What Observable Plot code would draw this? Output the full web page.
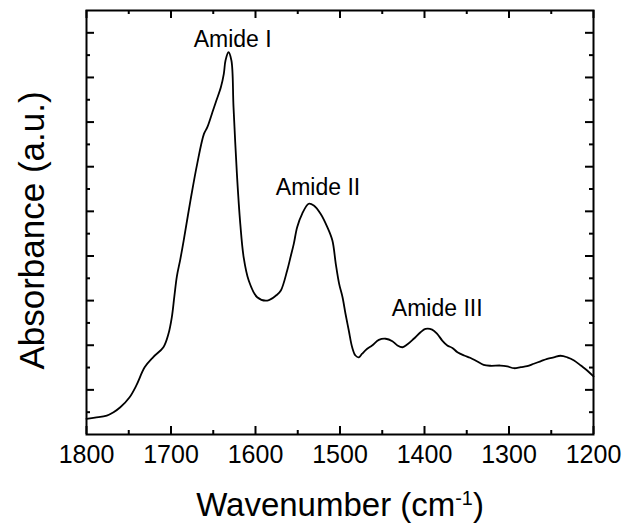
<!DOCTYPE html>
<html>
<head>
<meta charset="utf-8">
<script src="https://cdn.jsdelivr.net/npm/d3@7"></script>
<script src="https://cdn.jsdelivr.net/npm/@observablehq/plot@0.6"></script>
<style>
  html, body { margin: 0; padding: 0; background: white; }
  #chart { width: 628px; height: 531px; }
</style>
</head>
<body>
<div id="chart"></div>
<script>
// Spectrum (wavenumber in cm-1, absorbance in arbitrary units)
const wavenumber = [1800, 1790, 1776, 1768, 1760, 1749, 1741, 1731, 1721, 1709, 1703, 1699, 1696, 1693, 1689, 1685,
  1677, 1669, 1661, 1657, 1651, 1647, 1641, 1637.5, 1635.5, 1632, 1628.5, 1626, 1622, 1618, 1614, 1608, 1598, 1586,
  1575, 1570, 1562.5, 1558.6, 1554.7, 1550.7, 1544.8, 1537, 1531, 1523, 1515, 1509, 1505, 1501, 1497, 1493.5, 1489.6,
  1485.6, 1481.7, 1477.7, 1473.8, 1467.8, 1462, 1454, 1446, 1438, 1432, 1426, 1420.5, 1412.7, 1404.7, 1398.8, 1391,
  1385, 1379, 1373, 1367, 1361, 1353, 1346, 1338, 1330, 1322, 1310, 1302, 1294, 1286, 1278.5, 1270.6, 1262.7, 1254.8,
  1247, 1239, 1231, 1223, 1215, 1207.5, 1200];
const absorbance = [0.70, 0.76, 0.85, 1.00, 1.22, 1.67, 2.20, 3.02, 3.47, 3.91, 4.51, 5.26, 6.20, 7.10, 7.85, 8.69,
  10.48, 12.13, 13.47, 13.77, 14.44, 14.89, 15.56, 16.16, 16.76, 17.13, 16.76, 14.66, 11.68, 9.44, 7.94, 6.90, 6.15, 6.00,
  6.25, 6.45, 7.35, 7.94, 8.54, 9.29, 9.89, 10.34, 10.26, 9.89, 9.29, 8.69, 7.65, 6.75, 6.15, 5.41, 4.66,
  3.91, 3.54, 3.46, 3.62, 3.84, 3.99, 4.24, 4.29, 4.18, 3.99, 3.91, 4.03, 4.29, 4.58, 4.73, 4.70,
  4.51, 4.21, 3.99, 3.88, 3.69, 3.54, 3.44, 3.28, 3.12, 3.08, 3.09, 3.05, 2.97, 3.02, 3.06, 3.17, 3.28, 3.39,
  3.46, 3.53, 3.46, 3.32, 3.09, 2.87, 2.60];

// Peak annotations
const peakLabels = ["Amide I", "Amide II", "Amide III"];
const peakX = [1627, 1526, 1385];
const peakY = [17.38, 10.75, 5.33];

// Axis ticks
const xMajorTicks = [1800, 1700, 1600, 1500, 1400, 1300, 1200];
const xMinorTicks = [1750, 1650, 1550, 1450, 1350, 1250];
const yMajorTicks = [2, 4, 6, 8, 10, 12, 14, 16, 18];
const yMinorTicks = [1, 3, 5, 7, 9, 11, 13, 15, 17];

const xTitle = "Wavenumber (cm-1)";
const yTitle = "Absorbance (a.u.)";

const spectrum = wavenumber.map((w, i) => ({w, a: absorbance[i]}));
const peaks = peakLabels.map((t, i) => ({t, x: peakX[i], y: peakY[i]}));

const W = 628, H = 531;
const mL = 86, mR = 35, mT = 10, mB = 97;
const pw = W - mL - mR, ph = H - mT - mB;
const major = 8, minor = 4;

const chart = Plot.plot({
  width: W, height: H,
  marginLeft: mL, marginRight: mR, marginTop: mT, marginBottom: mB,
  x: {domain: [1800, 1200], axis: null},
  y: {domain: [0, 19], axis: null},
  style: {fontFamily: "'Liberation Sans', Arial, sans-serif", background: "white", color: "black"},
  marks: [
    // ticks (inward)
    Plot.tickX(xMajorTicks, {x: d => d, insetTop: ph - major, stroke: "black", strokeWidth: 2}),
    Plot.tickX(xMajorTicks, {x: d => d, insetBottom: ph - major, stroke: "black", strokeWidth: 2}),
    Plot.tickX(xMinorTicks, {x: d => d, insetTop: ph - minor, stroke: "black", strokeWidth: 2}),
    Plot.tickX(xMinorTicks, {x: d => d, insetBottom: ph - minor, stroke: "black", strokeWidth: 2}),
    Plot.tickY(yMajorTicks, {y: d => d, insetRight: pw - major, stroke: "black", strokeWidth: 2}),
    Plot.tickY(yMajorTicks, {y: d => d, insetLeft: pw - major, stroke: "black", strokeWidth: 2}),
    Plot.tickY(yMinorTicks, {y: d => d, insetRight: pw - minor, stroke: "black", strokeWidth: 2}),
    Plot.tickY(yMinorTicks, {y: d => d, insetLeft: pw - minor, stroke: "black", strokeWidth: 2}),
    Plot.frame({stroke: "black", strokeWidth: 2}),
    // spectrum
    Plot.line(spectrum, {x: "w", y: "a", curve: "catmull-rom", stroke: "black", strokeWidth: 1.8}),
    // tick labels
    Plot.text(xMajorTicks, {x: d => d, frameAnchor: "bottom", dy: 28, text: d => String(d),
      fontSize: 25, lineAnchor: "bottom", fill: "black"}),
    // peak labels
    Plot.text(peaks, {x: "x", y: "y", text: "t", fontSize: 23, lineAnchor: "bottom", fill: "black"}),
    // axis titles
    Plot.text([xTitle], {frameAnchor: "bottom", dy: 81, text: d => d, fontSize: 33, lineAnchor: "bottom",
      textAnchor: "middle", fill: "black", className: "xtitle"}),
    Plot.text([yTitle], {frameAnchor: "left", dx: -43, dy: 8, rotate: -90, text: d => d, fontSize: 35,
      textAnchor: "middle", lineAnchor: "bottom", fill: "black"})
  ]
});

// turn the "-1" of the x title into a superscript
d3.select(chart).selectAll("g.xtitle text").each(function() {
  const t = d3.select(this);
  const s = t.text();
  const m = s.match(/^(.*cm)(-1)(\).*)$/);
  if (!m) return;
  t.text(null);
  t.append("tspan").text(m[1]);
  t.append("tspan").attr("dy", "-0.55em").attr("font-size", "0.6em").text(m[2]);
  t.append("tspan").attr("dy", "0.33em").text(m[3]);
});

document.getElementById("chart").appendChild(chart);
</script>
</body>
</html>
